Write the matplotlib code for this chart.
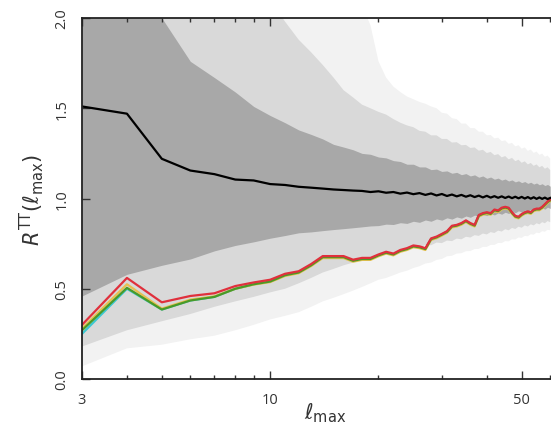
import numpy as np
import matplotlib
matplotlib.use('Agg')
import matplotlib.pyplot as plt
from matplotlib import ticker

plt.rcParams['font.family'] = ['Open Sans', 'DejaVu Sans']
plt.rcParams['mathtext.fontset'] = 'dejavusans'

# multipole range
ell = np.arange(3, 61)

# mean ratio (black line)
mean_ratio = [1.51, 1.47, 1.22, 1.155, 1.135, 1.105, 1.10, 1.08, 1.075, 1.065,
              1.06, 1.055, 1.05, 1.047, 1.044, 1.042, 1.036, 1.040, 1.032, 1.036,
              1.027, 1.033, 1.024, 1.030, 1.020, 1.028, 1.017, 1.025, 1.014, 1.022,
              1.012, 1.020, 1.010, 1.018, 1.008, 1.016, 1.006, 1.015, 1.005, 1.013,
              1.004, 1.012, 1.003, 1.011, 1.002, 1.010, 1.001, 1.009, 1.000, 1.008,
              0.999, 1.007, 0.998, 1.006, 0.998, 1.005, 0.997, 1.003]

# 1 sigma band
sig1_hi = [2.60, 2.30, 2.00, 1.76, 1.67, 1.59, 1.51, 1.46, 1.42, 1.38,
           1.355, 1.33, 1.30, 1.285, 1.27, 1.25, 1.245, 1.23, 1.225, 1.21,
           1.205, 1.19, 1.19, 1.175, 1.175, 1.16, 1.163, 1.15, 1.153, 1.14,
           1.145, 1.132, 1.138, 1.125, 1.131, 1.118, 1.125, 1.112, 1.119, 1.107,
           1.113, 1.102, 1.108, 1.097, 1.103, 1.092, 1.098, 1.088, 1.094, 1.084,
           1.090, 1.080, 1.086, 1.076, 1.082, 1.072, 1.078, 1.068]
sig1_lo = [0.46, 0.58, 0.63, 0.665, 0.71, 0.74, 0.76, 0.78, 0.795, 0.81,
           0.815, 0.822, 0.828, 0.833, 0.838, 0.843, 0.848, 0.850, 0.858, 0.856,
           0.866, 0.862, 0.874, 0.868, 0.881, 0.874, 0.887, 0.880, 0.893, 0.886,
           0.898, 0.891, 0.903, 0.896, 0.908, 0.901, 0.912, 0.905, 0.916, 0.909,
           0.920, 0.913, 0.924, 0.917, 0.928, 0.921, 0.932, 0.925, 0.936, 0.929,
           0.940, 0.933, 0.944, 0.937, 0.948, 0.941, 0.952, 0.945]

# 2 sigma band
sig2_hi = [3.60, 3.30, 3.00, 2.75, 2.55, 2.40, 2.25, 2.10, 1.98, 1.88,
           1.81, 1.74, 1.67, 1.60, 1.56, 1.52, 1.50, 1.48, 1.465, 1.44,
           1.42, 1.405, 1.395, 1.375, 1.37, 1.35, 1.35, 1.33, 1.33, 1.31,
           1.312, 1.295, 1.297, 1.28, 1.283, 1.265, 1.27, 1.252, 1.258, 1.24,
           1.246, 1.228, 1.235, 1.217, 1.225, 1.207, 1.215, 1.198, 1.206, 1.189,
           1.197, 1.181, 1.189, 1.173, 1.181, 1.165, 1.173, 1.158]
sig2_lo = [0.18, 0.27, 0.32, 0.36, 0.40, 0.43, 0.455, 0.48, 0.50, 0.53,
           0.56, 0.59, 0.61, 0.63, 0.645, 0.66, 0.67, 0.68, 0.69, 0.695,
           0.71, 0.712, 0.728, 0.727, 0.743, 0.741, 0.756, 0.753, 0.767, 0.764,
           0.778, 0.774, 0.788, 0.784, 0.797, 0.793, 0.806, 0.801, 0.814, 0.809,
           0.822, 0.817, 0.830, 0.824, 0.837, 0.831, 0.844, 0.838, 0.851, 0.845,
           0.857, 0.851, 0.863, 0.857, 0.869, 0.863, 0.875, 0.869]

# 3 sigma band
sig3_hi = [4.5, 4.2, 3.9, 3.6, 3.4, 3.2, 3.0, 2.85, 2.7, 2.6,
           2.5, 2.42, 2.34, 2.27, 2.18, 2.07, 1.96, 1.76, 1.67, 1.62,
           1.59, 1.565, 1.55, 1.535, 1.525, 1.51, 1.50, 1.475, 1.47, 1.445,
           1.44, 1.415, 1.415, 1.39, 1.39, 1.37, 1.37, 1.35, 1.352, 1.333,
           1.337, 1.318, 1.322, 1.303, 1.308, 1.289, 1.295, 1.276, 1.283, 1.264,
           1.271, 1.253, 1.260, 1.242, 1.249, 1.231, 1.238, 1.221]
sig3_lo = [0.07, 0.17, 0.19, 0.22, 0.24, 0.27, 0.30, 0.33, 0.35, 0.37,
           0.40, 0.43, 0.45, 0.47, 0.49, 0.51, 0.53, 0.55, 0.56, 0.575,
           0.59, 0.60, 0.615, 0.625, 0.64, 0.645, 0.66, 0.665, 0.68, 0.683,
           0.695, 0.697, 0.708, 0.709, 0.720, 0.721, 0.732, 0.732, 0.743, 0.743,
           0.754, 0.753, 0.764, 0.763, 0.774, 0.773, 0.784, 0.782, 0.793, 0.791,
           0.802, 0.800, 0.811, 0.808, 0.819, 0.816, 0.827, 0.824]

# measured ratios, one per map
r_red = [0.30, 0.56, 0.425, 0.46, 0.475, 0.515, 0.535, 0.55, 0.583, 0.597,
         0.637, 0.681, 0.681, 0.681, 0.661, 0.671, 0.671, 0.690, 0.705, 0.695,
         0.715, 0.725, 0.740, 0.735, 0.725, 0.779, 0.789, 0.804, 0.819, 0.849,
         0.854, 0.864, 0.879, 0.864, 0.854, 0.909, 0.919, 0.924, 0.919, 0.939,
         0.934, 0.949, 0.954, 0.949, 0.924, 0.904, 0.899, 0.914, 0.924, 0.929,
         0.924, 0.939, 0.944, 0.944, 0.954, 0.969, 0.984, 0.994]
r_yellow = [0.28, 0.525, 0.39, 0.44, 0.458, 0.50, 0.523, 0.537, 0.571, 0.586,
            0.626, 0.670, 0.670, 0.670, 0.650, 0.660, 0.660, 0.680, 0.695, 0.685,
            0.705, 0.715, 0.730, 0.725, 0.715, 0.770, 0.780, 0.795, 0.810, 0.840,
            0.845, 0.855, 0.870, 0.855, 0.845, 0.900, 0.910, 0.915, 0.910, 0.930,
            0.925, 0.940, 0.945, 0.940, 0.915, 0.895, 0.890, 0.905, 0.915, 0.920,
            0.915, 0.930, 0.935, 0.935, 0.945, 0.960, 0.975, 0.985]
r_green = [0.27, 0.505, 0.385, 0.435, 0.455, 0.50, 0.525, 0.54, 0.575, 0.59,
           0.63, 0.675, 0.675, 0.675, 0.655, 0.665, 0.665, 0.685, 0.70, 0.69,
           0.71, 0.72, 0.735, 0.73, 0.72, 0.775, 0.785, 0.80, 0.815, 0.845,
           0.85, 0.86, 0.875, 0.86, 0.85, 0.905, 0.915, 0.92, 0.915, 0.935,
           0.93, 0.945, 0.95, 0.945, 0.92, 0.90, 0.895, 0.91, 0.92, 0.925,
           0.92, 0.935, 0.94, 0.94, 0.95, 0.965, 0.98, 0.99]
r_cyan = [0.25, 0.50, 0.385, 0.435, 0.455, 0.50, 0.525, 0.54, 0.575, 0.59,
          0.63, 0.675, 0.675, 0.675, 0.655, 0.665, 0.665, 0.685, 0.70, 0.69,
          0.71, 0.72, 0.735, 0.73, 0.72, 0.775, 0.785, 0.80, 0.815, 0.845,
          0.85, 0.86, 0.875, 0.86, 0.85, 0.905, 0.915, 0.92, 0.915, 0.935,
          0.93, 0.945, 0.95, 0.945, 0.92, 0.90, 0.895, 0.91, 0.92, 0.925,
          0.92, 0.935, 0.94, 0.94, 0.95, 0.965, 0.98, 0.99]

fig = plt.figure(figsize=(5.51, 4.35), dpi=100)
ax = fig.add_axes([0.1488, 0.1264, 0.868, 0.8299])

ax.fill_between(ell, sig3_lo, sig3_hi, color='#f2f2f2', lw=0)
ax.fill_between(ell, sig2_lo, sig2_hi, color='#d9d9d9', lw=0)
ax.fill_between(ell, sig1_lo, sig1_hi, color='#a8a8a8', lw=0)

ax.plot(ell, r_cyan, color='#3cc8d0', lw=1.6)
ax.plot(ell, r_yellow, color='#e8c050', lw=1.6)
ax.plot(ell, r_green, color='#4a9a28', lw=1.6)
ax.plot(ell, r_red, color='#e0303c', lw=1.6)
ax.plot(ell, mean_ratio, color='black', lw=1.6)

ax.set_xscale('log')
ax.set_xlim(3, 64)
ax.set_ylim(0, 2)

ax.xaxis.set_major_locator(ticker.FixedLocator([3, 10, 50]))
ax.xaxis.set_major_formatter(ticker.FixedFormatter(['3', '10', '50']))
ax.xaxis.set_minor_locator(ticker.LogLocator(subs=np.arange(2, 10)))
ax.xaxis.set_minor_formatter(ticker.NullFormatter())
ax.set_yticks([0.0, 0.5, 1.0, 1.5, 2.0])
ax.set_yticklabels(['0.0', '0.5', '1.0', '1.5', '2.0'], rotation=90, va='center')

ax.tick_params(which='both', direction='in', top=True, right=False, colors='#333333',
               labelsize=10.5, width=1.0)
ax.tick_params(which='major', length=6)
ax.tick_params(which='minor', length=3)
ax.tick_params(axis='x', pad=9)
ax.tick_params(axis='y', pad=9)

for s in ['left', 'top', 'bottom']:
    ax.spines[s].set_linewidth(1.3)
    ax.spines[s].set_color('#222222')
ax.spines['right'].set_visible(False)

ax.set_ylabel(r'$R^{\rm TT}(\ell_{\rm max})$', fontsize=15, color='#333333')
ax.set_xlabel(r'$\ell_{\rm max}$', fontsize=15, color='#333333')
ax.yaxis.set_label_coords(-0.075, 0.5)
ax.xaxis.set_label_coords(0.508, -0.06)

fig.savefig('out.png', dpi=100)
